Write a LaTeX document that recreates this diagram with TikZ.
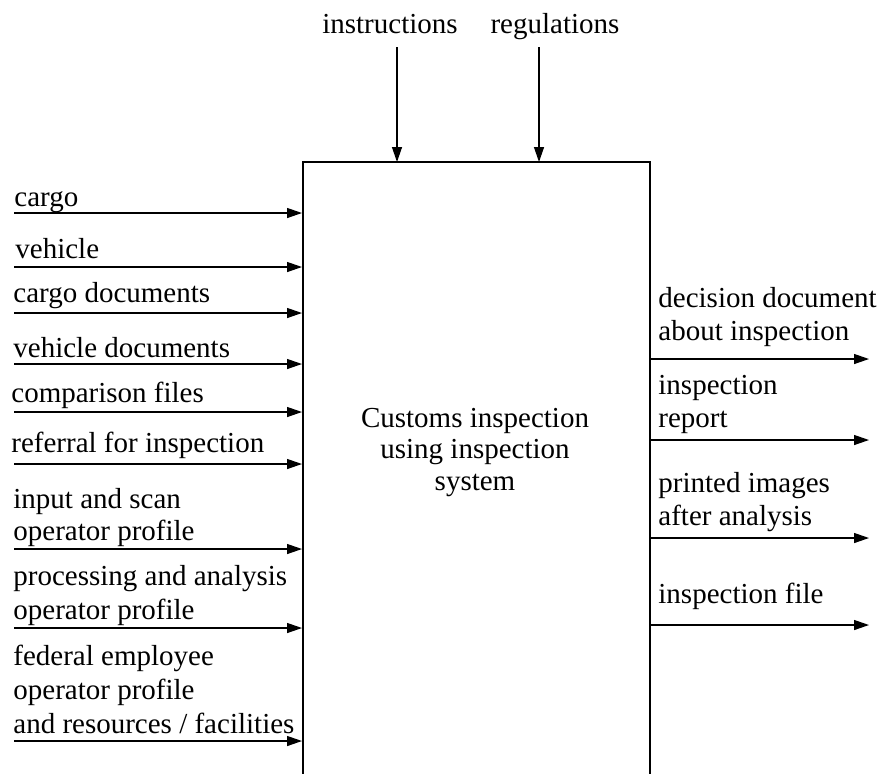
\documentclass[tikz,border=0pt]{standalone}
\usepackage{fontspec}
\setmainfont{Liberation Serif}
\usetikzlibrary{arrows.meta}
\begin{document}
\begin{tikzpicture}[x=0.5pt,y=-0.5pt,
  lbl/.style={anchor=base west,inner sep=0pt,font=\fontsize{14.5}{16}\selectfont},
  ctr/.style={anchor=base,inner sep=0pt,font=\fontsize{14.5}{16}\selectfont},
  flow/.style={line width=0.65pt,-{Triangle[length=7.5pt,width=5pt]}},
  boxline/.style={line width=1pt}]
\useasboundingbox (0,0) rectangle (882,773);
% box (open at bottom)
\coordinate (bl) at (303,775);
\coordinate (tl) at (303,162);
\coordinate (tr) at (650,162);
\coordinate (br) at (650,775);
\draw[boxline] (bl) -- (tl) -- (tr) -- (br);
\node[ctr] (c1) at (475,427) {Customs inspection};
\node[ctr] (c2) at (475,458) {using inspection};
\node[ctr] (c3) at (475,490) {system};
% controls
\node[ctr] (tinst) at (390,33) {instructions};
\node[ctr] (treg) at (555,33) {regulations};
\coordinate (a1s) at (397,47); \coordinate (a1e) at (397,162);
\coordinate (a2s) at (539,47); \coordinate (a2e) at (539,162);
\draw[flow] (a1s) -- (a1e);
\draw[flow] (a2s) -- (a2e);
% inputs
\node[lbl] (i1) at (14,206) {cargo};
\node[lbl] (i2) at (15,258) {vehicle};
\node[lbl] (i3) at (13,302) {cargo documents};
\node[lbl] (i4) at (13,357) {vehicle documents};
\node[lbl] (i5) at (11,402) {comparison files};
\node[lbl] (i6) at (11,452) {referral for inspection};
\node[lbl] (i7a) at (13,508) {input and scan};
\node[lbl] (i7b) at (13,540) {operator profile};
\node[lbl] (i8a) at (13,585) {processing and analysis};
\node[lbl] (i8b) at (13,619) {operator profile};
\node[lbl] (i9a) at (13,665) {federal employee};
\node[lbl] (i9b) at (13,699) {operator profile};
\node[lbl] (i9c) at (13,733) {and resources / facilities};
\foreach \n/\y in {1/213,2/267,3/313,4/364,5/412,6/464,7/549,8/628,9/741}{
  \coordinate (is\n) at (14,\y);
  \coordinate (ie\n) at (302,\y);
  \draw[flow] (is\n) -- (ie\n);
}
% outputs
\node[lbl] (o1a) at (658,307) {decision document};
\node[lbl] (o1b) at (658,340) {about inspection};
\node[lbl] (o2a) at (658,394) {inspection};
\node[lbl] (o2b) at (658,427) {report};
\node[lbl] (o3a) at (658,492) {printed images};
\node[lbl] (o3b) at (658,525) {after analysis};
\node[lbl] (o4) at (658,603) {inspection file};
\foreach \n/\y in {1/359,2/440,3/538,4/625}{
  \coordinate (os\n) at (650,\y);
  \coordinate (oe\n) at (869,\y);
  \draw[flow] (os\n) -- (oe\n);
}
\end{tikzpicture}
\end{document}
